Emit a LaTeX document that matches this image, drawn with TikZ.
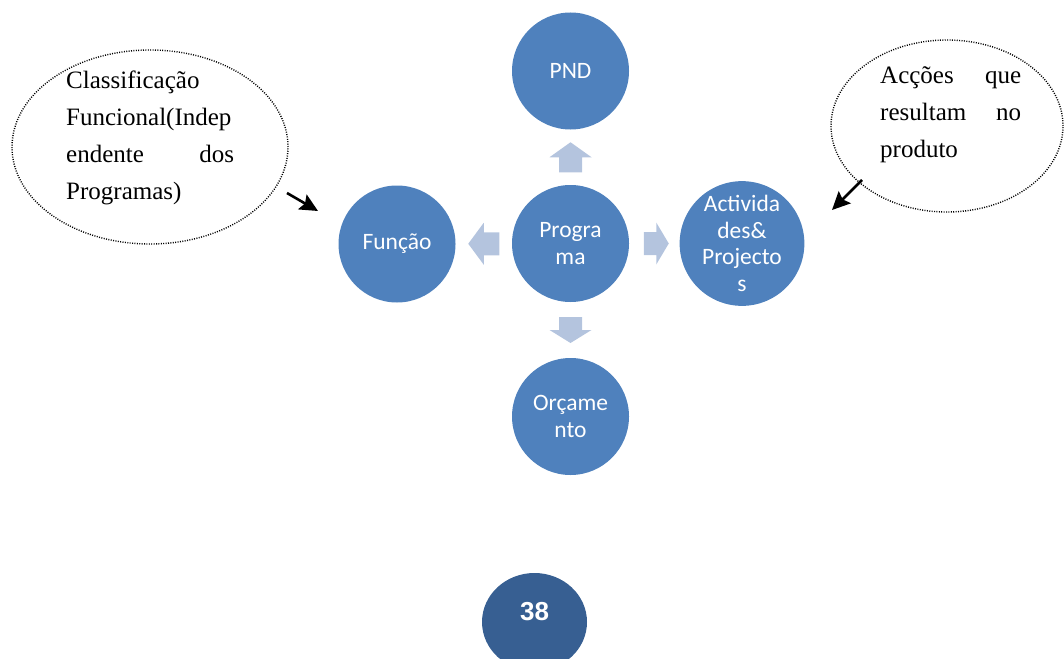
\documentclass[tikz,border=0pt]{standalone}
\usepackage{fontspec}
\setmainfont{Liberation Serif}
\newfontfamily\circlefont{Carlito}
\newfontfamily\pagefont{Liberation Sans}
\usetikzlibrary{calc,arrows.meta,shapes.geometric}
\definecolor{colorcirc}{HTML}{4F81BD}
\definecolor{colorarrow}{HTML}{B4C4DE}
\definecolor{colorpage}{HTML}{375F92}
\tikzset{block arrow/.pic={
        \path [fill=colorarrow] ({-#1/2},-11.5) --
        (0,-11.5) --
        (0,-21) --
        ({#1/2},0) --
        (0,21) --
        (0,11.5) --
        ({-#1/2},11.5) -- cycle;
    }
}

\begin{document}
\begin{tikzpicture}[x=1pt, y=-1pt,
        circ/.style={circle, fill=colorcirc, minimum size=117pt, inner sep=0pt,
            text=white, align=center, font=\circlefont\fontsize{23.5}{26.5}\selectfont},
        callout/.style={ellipse, draw, dash pattern=on 1pt off 1.4pt, line width=1.4pt, inner sep=0pt},
        note/.style={anchor=north west, inner sep=0pt, align=left, font=\fontsize{25}{37}\selectfont},
        pointer/.style={-{Stealth[length=18pt,width=17pt,inset=3pt]}, line width=2.6pt}]
        \useasboundingbox (0,0) rectangle (1064,658);
        \clip (0,0) rectangle (1064,658);

        % callouts
        \node [callout, minimum width=276pt, minimum height=194pt] (leftbubble) at (150,147) {};
        \node [callout, minimum width=232pt, minimum height=172pt] (rightbubble) at (947,126) {};
        \node [note, text width=168pt] (lefttext) at (66,71)
            {Classificação\\Funcional(Indep\\endente\hfill dos\\Programas)};
        \node [note, text width=141pt] (righttext) at (880,66)
            {Acções\hfill que\\resultam\hfill no\\produto};

        % circles
        \node [circ] (programa) at (570.5,243.5) {Progra\\ma};
        \node [circ] (pnd) at (570.5,71) {PND};
        \node [circ] (funcao) at (397,244) {Função};
        \node [circ] (activ) at (742,243.5) {Activida\\des\&\\Projecto\\s};
        \node [circ] (orcamento) at (570.5,416.5) {Orçame\\nto};

        % block arrows
        \path ($(programa)!0.5!(pnd)$) pic [rotate=90] {block arrow=30};
        \path ($(programa)!0.5!(funcao)$) pic [rotate=180] {block arrow=31};
        \path ($(programa)!0.5!(activ)$) pic {block arrow=25};
        \path ($(programa)!0.5!(orcamento)$) pic [rotate=-90] {block arrow=26};

        % pointers
        \coordinate (lefttail) at (287,193);
        \coordinate (lefttip) at (318,211);
        \coordinate (righttail) at (862,180);
        \coordinate (righttip) at (832,210);
        \draw [pointer] (lefttail) -- (lefttip);
        \draw [pointer] (righttail) -- (righttip);

        % page number
        \node [ellipse, fill=colorpage, minimum width=105pt, minimum height=98pt, inner sep=0pt] (pageshape) at (534.5,622) {};
        \node [text=white, font=\pagefont\bfseries\fontsize{26}{30}\selectfont, inner sep=0pt] (pagetext) at (534.5,611.5) {38};
    \end{tikzpicture}
\end{document}
